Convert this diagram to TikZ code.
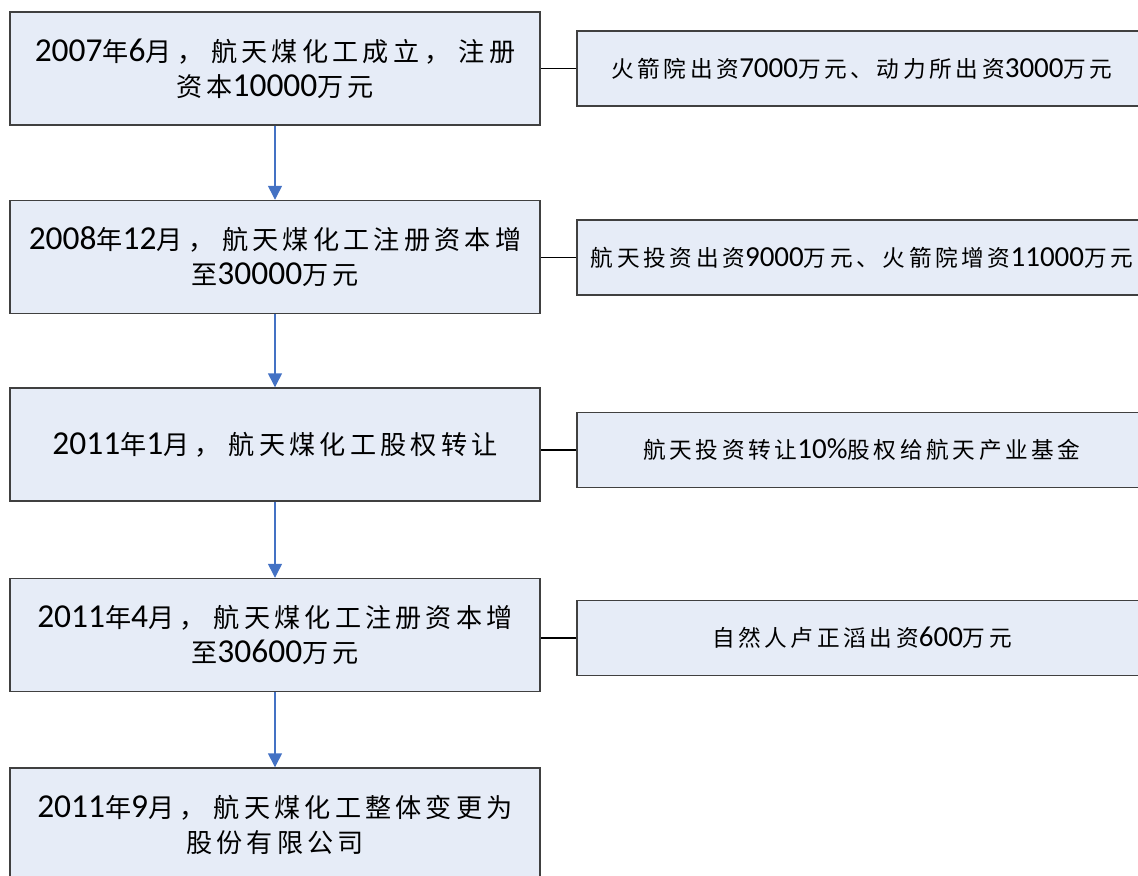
\documentclass[tikz,border=0pt]{standalone}
\usepackage{fontspec}
\setmainfont{Carlito}
\newfontfamily\cjk[LetterSpace=16]{Noto Sans CJK SC}
\newfontfamily\dgfont[Scale=1.28]{Carlito}
\newcommand\dg[1]{{\dgfont #1}}
\newcommand\cm{\hspace{4pt}，\hspace{6pt}}
\usetikzlibrary{arrows.meta}
\definecolor{boxfill}{HTML}{E6ECF7}
\definecolor{boxline}{HTML}{404040}
\definecolor{arrowblue}{HTML}{4472C4}
\begin{document}
\begin{tikzpicture}[x=0.75pt,y=-0.75pt,
  leftbox/.style={draw=boxline, fill=boxfill, line width=1.1pt, minimum width=397.5pt, minimum height=84.75pt, align=center, inner sep=0pt, font=\cjk\fontsize{19.6pt}{26.25pt}\selectfont},
  rightbox/.style={draw=boxline, fill=boxfill, line width=1.1pt, minimum width=427.5pt, minimum height=56.25pt, align=center, inner sep=0pt, font=\cjk\fontsize{17pt}{22pt}\selectfont},
  flow/.style={draw=arrowblue, line width=1.1pt, -{Triangle[width=10.5pt,length=10.5pt]}},
  link/.style={draw=black, line width=0.8pt}]
\useasboundingbox (0,0) rectangle (1138,875);
\clip (0,0) rectangle (1138,875);
\node[leftbox] (L1) at (275,68.5) {\dg{2007}年\dg{6}月\cm 航天煤化工成立\cm 注册\\资本\dg{10000}万元};
\node[leftbox] (L2) at (275,257) {\dg{2008}年\dg{12}月\cm 航天煤化工注册资本增\\至\dg{30000}万元};
\node[leftbox] (L3) at (275,444.5) {\dg{2011}年\dg{1}月\cm 航天煤化工股权转让};
\node[leftbox] (L4) at (275,635) {\dg{2011}年\dg{4}月\cm 航天煤化工注册资本增\\至\dg{30600}万元};
\node[leftbox] (L5) at (275,824.5) {\dg{2011}年\dg{9}月\cm 航天煤化工整体变更为\\股份有限公司};
\node[rightbox] (R1) at (862,68.5) {火箭院出资\dg{7000}万元、动力所出资\dg{3000}万元};
\node[rightbox] (R2) at (862,257.5) {航天投资出资\dg{9000}万元、火箭院增资\dg{11000}万元};
\node[rightbox] (R3) at (862,450) {航天投资转让\dg{10\%}股权给航天产业基金};
\node[rightbox] (R4) at (862,638) {自然人卢正滔出资\dg{600}万元};
\draw[flow] (L1) -- (L2);
\draw[flow] (L2) -- (L3);
\draw[flow] (L3) -- (L4);
\draw[flow] (L4) -- (L5);
\draw[link] (R1.west) -- (R1.west -| L1.east);
\draw[link] (R2.west) -- (R2.west -| L2.east);
\draw[link] (R3.west) -- (R3.west -| L3.east);
\draw[link] (R4.west) -- (R4.west -| L4.east);
\end{tikzpicture}
\end{document}
